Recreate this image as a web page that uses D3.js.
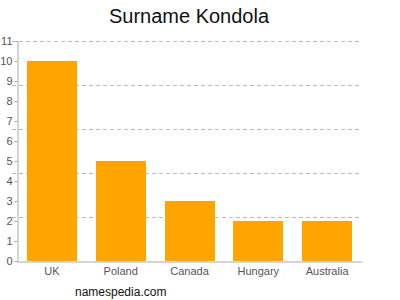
<!DOCTYPE html>
<html>
<head>
<meta charset="utf-8">
<script src="https://cdn.jsdelivr.net/npm/d3@7"></script>
<style>
  body { margin: 0; background: #fff; }
  text { font-family: "Liberation Sans", Arial, sans-serif; }
</style>
</head>
<body>
<script>
const WIDTH = 400;
const HEIGHT = 300;
const LEFT = 17;
const RIGHT = 362;
const TOP = 41;
const BOTTOM = 261;

const COUNTRIES = ["UK", "Poland", "Canada", "Hungary", "Australia"];
const COUNTS = [10, 5, 3, 2, 2];
const Y_TICKS = [0, 1, 2, 3, 4, 5, 6, 7, 8, 9, 10, 11];
const GRID_LINES = [2.2, 4.4, 6.6, 8.8, 11];

const svg = d3.select("body")
              .append("svg")
              .attr("width", WIDTH)
              .attr("height", HEIGHT);

const xScale = d3.scaleBand()
                 .domain(COUNTRIES)
                 .range([LEFT, RIGHT])
                 .paddingInner(0.275)
                 .paddingOuter(0.145);

const yScale = d3.scaleLinear()
                 .domain([0, 11])
                 .range([BOTTOM, TOP]);

// dashed grid
svg.append("g")
   .selectAll("line")
   .data(GRID_LINES)
   .enter()
   .append("line")
   .attr("x1", LEFT - 5)
   .attr("x2", RIGHT)
   .attr("y1", d => Math.round(yScale(d)) + 0.5)
   .attr("y2", d => Math.round(yScale(d)) + 0.5)
   .attr("stroke", "#bbb")
   .attr("stroke-dasharray", "4,3");

// bars
svg.append("g")
   .selectAll("rect")
   .data(COUNTS)
   .enter()
   .append("rect")
   .attr("x", (d, i) => Math.round(xScale(COUNTRIES[i])))
   .attr("y", d => yScale(d))
   .attr("width", Math.round(xScale.bandwidth()))
   .attr("height", d => BOTTOM - yScale(d))
   .attr("fill", "#ffa500");

// y axis
const yAxis = d3.axisLeft(yScale)
                .tickValues(Y_TICKS)
                .tickSize(3)
                .tickPadding(2);

const yG = svg.append("g")
              .attr("transform", "translate(" + (LEFT + 0.5) + ",0)")
              .call(yAxis);
yG.select(".domain").attr("stroke", "#aaa");
yG.selectAll(".tick line").attr("stroke", "#aaa");
yG.selectAll(".tick text")
  .attr("fill", "#555")
  .style("font-size", "11px")
  .style("font-family", "Liberation Sans, Arial, sans-serif");

// x axis
const xAxis = d3.axisBottom(xScale)
                .tickSize(0)
                .tickPadding(6);

const xG = svg.append("g")
              .attr("transform", "translate(0," + (BOTTOM + 0.5) + ")")
              .call(xAxis);
xG.select(".domain").attr("stroke", "#aaa");
xG.selectAll(".tick text")
  .attr("fill", "#555")
  .style("font-size", "11px")
  .style("font-family", "Liberation Sans, Arial, sans-serif");

// title
svg.append("text")
   .attr("x", 189)
   .attr("y", 23)
   .attr("text-anchor", "middle")
   .style("font-size", "20px")
   .attr("fill", "#111")
   .text("Surname Kondola");

// footer
svg.append("text")
   .attr("x", 75)
   .attr("y", 296)
   .style("font-size", "12px")
   .attr("fill", "#111")
   .text("namespedia.com");
</script>
</body>
</html>
